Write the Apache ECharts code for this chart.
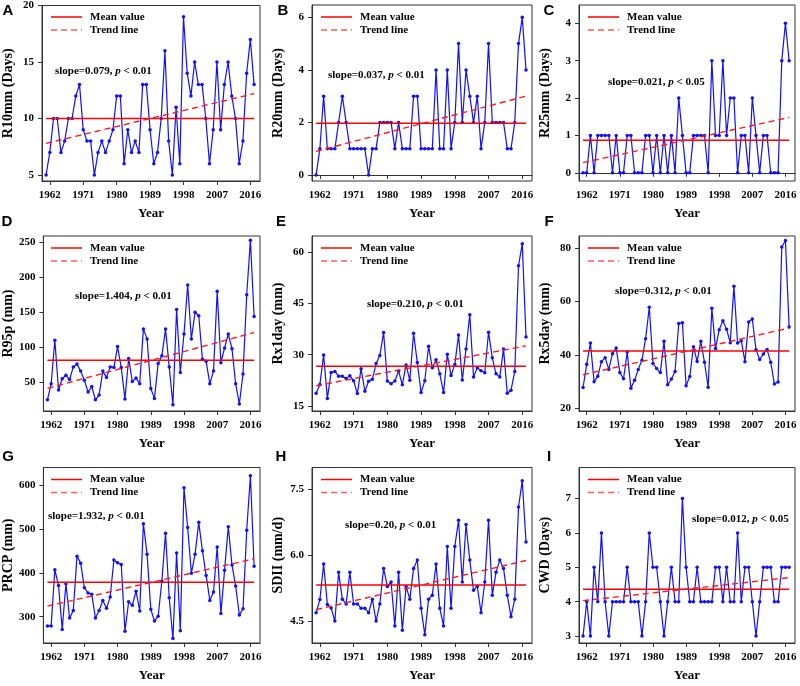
<!DOCTYPE html>
<html><head><meta charset="utf-8">
<script src="https://cdn.jsdelivr.net/npm/echarts@6/dist/echarts.min.js"></script>
<style>html,body{margin:0;padding:0;background:#fff}#c{width:800px;height:686px}</style>
</head><body><div id="c"></div>
<script>
// ---- data ----
const years = [];
for (let y = 1961; y <= 2017; y++) years.push(y);
const xTickLabels = [1962, 1971, 1980, 1989, 1998, 2007, 2016];

const r10mm = [5,7,10,10,7,8,10,10,12,13, 9,8,8,5,7,8,7,8,9,12, 12,6,9,7,8,7,13,13,9,6, 7,10,16,8,5,11,6,19,14,12, 15,13,13,10,6,9,15,9,13,15, 12,10,6,8,14,17,13];
const r20mm = [0,1,3,1,1,1,2,3,2,1, 1,1,1,1,0,1,1,2,2,2, 2,1,2,1,1,1,3,3,1,1, 1,1,4,1,1,4,1,2,5,2, 4,3,2,3,1,2,5,2,2,2, 2,1,1,2,5,6,4];
const r25mm = [0,0,1,0,1,1,1,1,0,1, 0,0,1,1,0,0,0,1,1,0, 1,0,1,0,1,0,2,1,0,0, 1,1,1,1,0,3,1,1,3,1, 2,2,0,1,1,0,2,1,0,1, 1,0,0,0,3,4,3];
const r95p = [25,48,110,39,55,60,54,72,76,66, 53,36,44,25,32,66,57,72,71,101, 71,26,84,51,56,48,126,112,41,27, 77,88,126,72,18,154,64,119,189,112, 150,145,83,80,48,66,180,78,99,119, 98,48,19,62,175,253,144];
const rx1day = [18.7,21.3,29.9,17.2,24.8,25.1,23.7,23.7,23.0,23.8, 22.4,18.6,25.9,19.3,22.2,22.8,27.4,29.8,36.5,22.3, 21.5,22.3,25.2,21.2,27.0,22.5,36.3,27.7,18.9,22.4, 32.5,26.2,28.5,24.4,18.9,30.1,23.9,27.1,35.8,22.6, 31.7,41.7,23.5,26.2,25.3,24.7,36.6,29.1,24.4,23.5, 31.7,18.7,19.6,25.1,56.1,62.5,35.2];
const rx5day = [27.8,36.5,44.5,30.0,32.0,37.5,39.0,34.6,40.5,42.6, 33.4,31.1,41.1,27.5,30.5,34.6,38.0,46.1,57.9,36.8, 34.9,33.4,45.1,28.8,31.0,33.8,51.8,52.1,28.5,31.9, 43.1,37.6,45.1,37.3,27.9,57.5,42.4,49.5,52.8,49.6, 44.6,65.8,44.5,45.3,37.5,52.4,53.5,42.0,38.3,40.4, 42.1,37.3,29.1,29.9,80.5,82.9,50.5];
const prcp = [279,279,407,371,271,375,297,314,438,422, 366,354,351,297,314,337,319,345,429,423, 419,267,334,326,358,313,512,442,317,290, 301,381,490,343,250,445,268,594,503,399, 442,515,450,394,337,356,459,307,406,505, 418,370,304,318,497,621,415];
const sdii = [4.69,4.99,5.80,4.88,4.80,4.50,5.61,5.00,4.89,5.61, 4.89,4.89,4.79,4.79,4.69,5.00,4.50,4.89,5.70,5.29, 5.39,4.39,5.61,4.29,5.29,5.00,5.70,5.89,4.79,4.19, 5.00,5.09,5.80,4.79,4.39,6.20,4.79,6.20,6.80,5.39, 6.70,5.89,5.20,5.29,4.69,5.39,6.80,5.09,5.61,5.89, 5.70,5.09,4.60,5.00,7.10,7.70,6.30];
const cwd = [3,4,3,5,4,6,4,3,4,4, 4,4,5,4,4,4,3,4,6,5, 5,4,3,4,5,4,4,7,5,4, 4,5,4,4,4,4,5,5,4,5, 4,4,6,4,5,5,4,3,4,5, 5,5,4,4,5,5,5];

const panelLetters = ['A','B','C','D','E','F','G','H','I'];
const yNames = ['R10mm (Days)','R20mm (Days)','R25mm (Days)','R95p (mm)','Rx1day (mm)','Rx5day (mm)','PRCP (mm)','SDII (mm/d)','CWD (Days)'];
const seriesValues = [r10mm, r20mm, r25mm, r95p, rx1day, rx5day, prcp, sdii, cwd];
const meanValues = [10.0, 1.97, 0.87, 81.4, 26.6, 41.5, 378.7, 5.32, 4.36];
const trendStart = [7.8, 0.9, 0.27, 41.4, 20.9, 32.6, 324, 4.76, 4.03];
const trendEnd = [12.2, 3.0, 1.48, 121, 32.6, 50.1, 432, 5.88, 4.70];
const slopeText = ['0.079','0.037','0.021','1.404','0.210','0.312','1.932','0.20','0.012'];
const pText = ['0.01','0.01','0.05','0.01','0.01','0.01','0.01','0.01','0.05'];
const yTicks = [[5,10,15,20],[0,2,4,6],[0,1,2,3,4],[50,100,150,200,250],[15,30,45,60],[20,40,60,80],[300,400,500,600],[4.5,6.0,7.5],[3,4,5,6,7]];
const yMin = [4.47,-0.23,-0.22,9,13.5,19,240,4.0,2.8];
const yMax = [20,6.47,4.49,259,64.8,84.6,640,8.0,7.9];

// ---- layout ----
const colLeft = [42, 312, 579];
const colWidth = [218, 220, 216];
const rowTop = [5, 236, 467.5];
const rowHeight = [176, 175, 175.5];
const slopePos = [[55,71],[328,75],[608,82],[75,296],[367,304],[615,291],[48,516],[345,525],[692,519]];
const letterPos = [[8,11],[283,11],[549,11],[7,222],[281,222],[549,222],[8,457],[281,457],[549,457]];

const serif = '"Liberation Serif","Times New Roman",serif';
const grid = [], xAxis = [], yAxis = [], series = [], graphic = [];

for (let i = 0; i < 9; i++) {
  const r = Math.floor(i / 3), c = i % 3;
  const L = colLeft[c], T = rowTop[r];
  grid.push({left: L, top: T, width: colWidth[c], height: rowHeight[r], show: true, borderColor: '#333', borderWidth: 1, containLabel: false});
  xAxis.push({
    type: 'value', gridIndex: i, min: 1959.9, max: 2018.6,
    name: 'Year', nameLocation: 'middle', nameGap: 26,
    nameTextStyle: {fontFamily: serif, fontWeight: 'bold', fontSize: 13, color: '#000'},
    axisLine: {show: true, lineStyle: {color: '#333', width: 1}},
    axisTick: {show: true, inside: false, length: 4, customValues: xTickLabels, lineStyle: {color: '#333'}},
    axisLabel: {customValues: xTickLabels, margin: 9, fontFamily: serif, fontWeight: 'bold', fontSize: 11, color: '#000', formatter: v => String(v)},
    splitLine: {show: false}
  });
  const ticks = yTicks[i];
  yAxis.push({
    type: 'value', gridIndex: i, min: yMin[i], max: yMax[i],
    name: yNames[i], nameLocation: 'middle', nameGap: 27, nameRotate: 90,
    nameTextStyle: {fontFamily: serif, fontWeight: 'bold', fontSize: 14, color: '#000'},
    axisLine: {show: true, lineStyle: {color: '#333', width: 1}},
    axisTick: {show: true, inside: false, length: 4, customValues: ticks, lineStyle: {color: '#333'}},
    axisLabel: {customValues: ticks, margin: 8, fontFamily: serif, fontWeight: 'bold', fontSize: 11, color: '#000',
      formatter: v => (i === 7 ? Number(v).toFixed(1) : String(v))},
    splitLine: {show: false}
  });
  series.push({
    type: 'line', xAxisIndex: i, yAxisIndex: i, name: 'value',
    data: years.map((y, k) => [y, seriesValues[i][k]]),
    symbol: 'circle', symbolSize: 3.5, showSymbol: true,
    itemStyle: {color: '#1010ff'}, lineStyle: {color: '#1010ff', width: 1.2},
    animation: false, z: 2
  });
  series.push({
    type: 'line', xAxisIndex: i, yAxisIndex: i, name: 'Mean value',
    data: [[years[0], meanValues[i]], [years[years.length - 1], meanValues[i]]],
    symbol: 'none', lineStyle: {color: '#ff0000', width: 1.5}, animation: false, z: 3
  });
  series.push({
    type: 'line', xAxisIndex: i, yAxisIndex: i, name: 'Trend line',
    data: [[years[0], trendStart[i]], [years[years.length - 1], trendEnd[i]]],
    symbol: 'none', lineStyle: {color: '#ff1a1a', width: 1.4, type: [6, 4]}, animation: false, z: 4
  });
  // legend (drawn)
  graphic.push({type: 'line', shape: {x1: L + 9, y1: T + 12, x2: L + 40, y2: T + 12}, style: {stroke: '#ff0000', lineWidth: 1.5}, z: 10});
  graphic.push({type: 'line', shape: {x1: L + 9, y1: T + 25, x2: L + 40, y2: T + 25}, style: {stroke: '#ff5c5c', lineWidth: 1.5, lineDash: [6, 4]}, z: 10});
  graphic.push({type: 'text', x: L + 48, y: T + 12, style: {text: 'Mean value', fontFamily: serif, fontWeight: 'bold', fontSize: 11, fill: '#000', verticalAlign: 'middle'}, z: 10});
  graphic.push({type: 'text', x: L + 48, y: T + 25, style: {text: 'Trend line', fontFamily: serif, fontWeight: 'bold', fontSize: 11, fill: '#000', verticalAlign: 'middle'}, z: 10});
  // slope text
  graphic.push({type: 'text', x: slopePos[i][0], y: slopePos[i][1], z: 10,
    style: {text: '{a|slope=' + slopeText[i] + ', }{b|p}{a| < ' + pText[i] + '}', verticalAlign: 'middle',
      rich: {a: {fontFamily: serif, fontWeight: 'bold', fontSize: 11, fill: '#000'}, b: {fontFamily: serif, fontWeight: 'bold', fontStyle: 'italic', fontSize: 11, fill: '#000'}}}});
  // panel letter
  graphic.push({type: 'text', x: letterPos[i][0], y: letterPos[i][1], z: 10,
    style: {text: panelLetters[i], fontFamily: '"Liberation Sans",Arial,sans-serif', fontWeight: 'bold', fontSize: 15, fill: '#000', align: 'center', verticalAlign: 'middle'}});
}

const chart = echarts.init(document.getElementById('c'), null, {renderer: 'canvas'});
chart.setOption({backgroundColor: '#fff', animation: false, grid, xAxis, yAxis, series, graphic});
</script></body></html>
